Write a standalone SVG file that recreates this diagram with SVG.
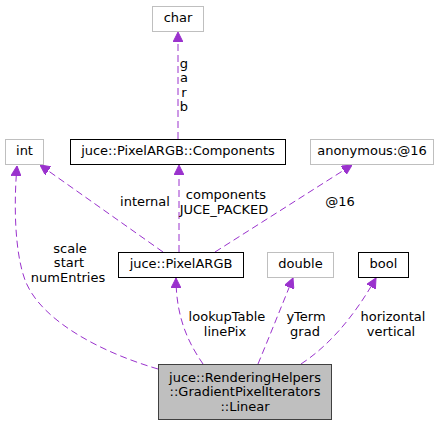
<svg xmlns="http://www.w3.org/2000/svg" width="446" height="425" viewBox="0 0 446 425">
<style>
text{font-family:"DejaVu Sans","Liberation Sans",sans-serif;font-size:13px;fill:#000}
.n{text-anchor:middle}
.gray{fill:#fff;stroke:#bfbfbf;stroke-width:1}
.blk{fill:#fff;stroke:#000;stroke-width:1}
.main{fill:#bfbfbf;stroke:#404040;stroke-width:1}
.e{fill:none;stroke:#9a32cd;stroke-width:1;stroke-dasharray:7,4;marker-end:url(#ah)}
.l{text-anchor:middle}
</style>
<defs>
<marker id="ah" viewBox="0 0 10 10" refX="10" refY="5" markerWidth="10" markerHeight="10" markerUnits="userSpaceOnUse" orient="auto">
<path d="M0,0 L10,5 L0,10 z" fill="#9a32cd" stroke="#9a32cd"/>
</marker>
</defs>
<g id="edges">
<path class="e" d="M178,139 L178,32"/>
<path class="e" d="M163,252 L40,165"/>
<path class="e" d="M179,252 L179,165"/>
<path class="e" d="M215,252 L352,165"/>
<path class="e" d="M158,369 C100,352 40,320 25,280 C14,250 14,200 17,166"/>
<path class="e" d="M203,364 C190,345 176,320 176,278"/>
<path class="e" d="M258,364 C270,335 282,305 293,278"/>
<path class="e" d="M301,364 C330,345 355,315 376,278"/>
<g id="edge-labels">
<text class="l" x="184" y="68">g</text>
<text class="l" x="184" y="82">a</text>
<text class="l" x="184" y="97">r</text>
<text class="l" x="184" y="111">b</text>
<text class="l" x="145" y="206">internal</text>
<text class="l" x="226" y="199">components</text>
<text class="l" x="224" y="214">JUCE_PACKED</text>
<text class="l" x="340" y="206">@16</text>
<text class="l" x="70" y="253">scale</text>
<text class="l" x="69" y="267">start</text>
<text class="l" x="68" y="282">numEntries</text>
<text class="l" x="227" y="321">lookupTable</text>
<text class="l" x="225" y="336">linePix</text>
<text class="l" x="306" y="321">yTerm</text>
<text class="l" x="305" y="336">grad</text>
<text class="l" x="393" y="321">horizontal</text>
<text class="l" x="391" y="336">vertical</text>
</g>
</g>
<g id="char"><rect class="gray" x="152.5" y="6.5" width="51" height="25"/><text class="n" x="178" y="22">char</text></g>
<g id="int"><rect class="gray" x="5.5" y="139.5" width="38" height="25"/><text class="n" x="24.5" y="155">int</text></g>
<g id="components"><rect class="blk" x="70.5" y="139.5" width="215" height="25"/><text class="n" x="178" y="155">juce::PixelARGB::Components</text></g>
<g id="anonymous"><rect class="gray" x="310.5" y="139.5" width="123" height="25"/><text class="n" x="372" y="155">anonymous:@16</text></g>
<g id="pixelargb"><rect class="blk" x="118.5" y="252.5" width="125" height="25"/><text class="n" x="181" y="268">juce::PixelARGB</text></g>
<g id="double"><rect class="gray" x="267.5" y="252.5" width="66" height="25"/><text class="n" x="300.5" y="268">double</text></g>
<g id="bool"><rect class="blk" x="358.5" y="252.5" width="50" height="25"/><text class="n" x="383.5" y="268">bool</text></g>
<g id="linear"><rect class="main" x="158.5" y="364.5" width="173" height="55"/>
<text class="n" x="245" y="382">juce::RenderingHelpers</text>
<text class="n" x="245" y="396">::GradientPixelIterators</text>
<text class="n" x="245" y="411">::Linear</text></g>
</svg>
